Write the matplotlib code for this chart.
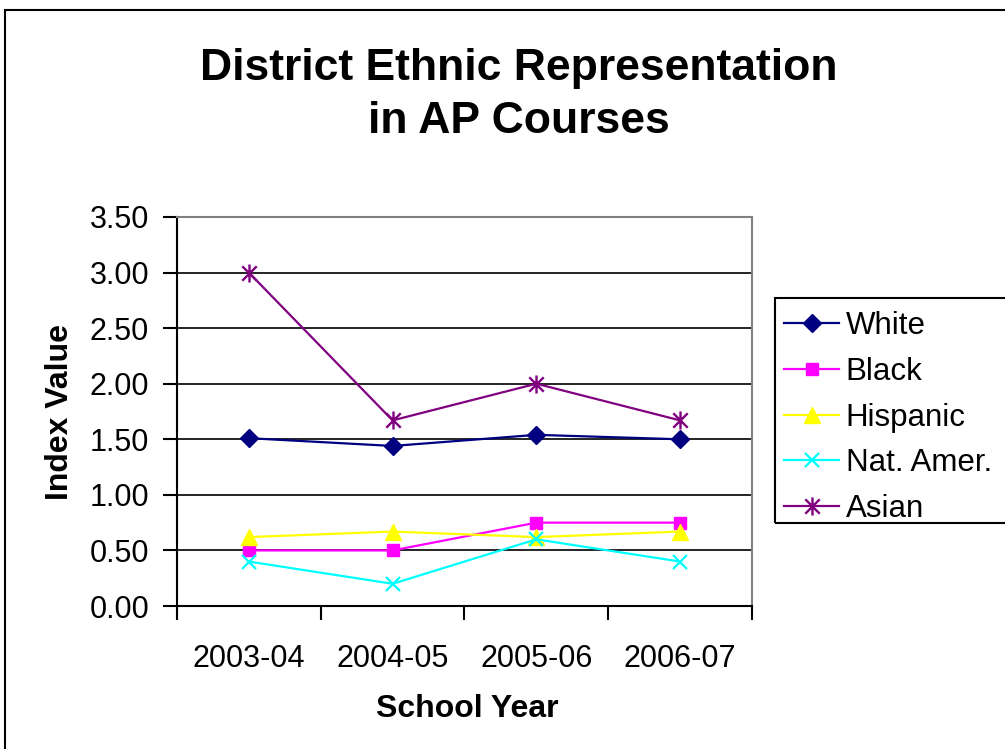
import matplotlib.pyplot as plt
from matplotlib.path import Path
from matplotlib.patches import Rectangle

plt.rcParams['font.family'] = ['Liberation Sans', 'DejaVu Sans']

years = ["2003-04", "2004-05", "2005-06", "2006-07"]
white = [1.51, 1.44, 1.54, 1.50]
black = [0.50, 0.50, 0.75, 0.75]
hispanic = [0.62, 0.67, 0.62, 0.67]
nat_amer = [0.40, 0.20, 0.60, 0.40]
asian = [3.00, 1.67, 2.00, 1.67]

# Excel-style asterisk: an X with a vertical bar through it
star = Path([(-1, -1), (1, 1), (-1, 1), (1, -1), (0, -1.25), (0, 1.25)],
            [Path.MOVETO, Path.LINETO] * 3)

series = [
    ("White", white, dict(color="#000080", marker="D", ms=9)),
    ("Black", black, dict(color="#FF00FF", marker="s", ms=8)),
    ("Hispanic", hispanic, dict(color="#FFFF00", marker="^", ms=11)),
    ("Nat. Amer.", nat_amer, dict(color="#00FFFF", marker="x", ms=10, mew=1.6)),
    ("Asian", asian, dict(color="#800080", marker=star, ms=13, mew=1.7)),
]

fig = plt.figure(figsize=(10.05, 7.49), dpi=100)
ax = fig.add_axes([0.1761, 0.1909, 0.5721, 0.5194])

x = list(range(len(years)))
for name, vals, style in series:
    ax.plot(x, vals, lw=1.6, label=name, **style)

ax.set_xlim(-0.5, len(years) - 0.5)
ax.set_ylim(0, 3.5)
ax.set_yticks([i * 0.5 for i in range(8)])
ax.set_yticklabels([f"{i * 0.5:.2f}" for i in range(8)])
ax.yaxis.grid(True, color="black", lw=1.2)
ax.set_axisbelow(True)

ax.set_xticks(x)
ax.set_xticklabels(years)
ax.set_xticks([i - 0.5 for i in range(len(years) + 1)], minor=True)
ax.tick_params(axis="x", which="major", length=0, pad=27, labelsize=22)
ax.tick_params(axis="x", which="minor", length=10, width=1.5, direction="out")
ax.tick_params(axis="y", length=10, width=1.5, direction="out", pad=10, labelsize=22)

for side in ("left", "bottom"):
    ax.spines[side].set_linewidth(1.5)
for side in ("top", "right"):
    ax.spines[side].set_color("#808080")
    ax.spines[side].set_linewidth(1.5)

ax.set_ylabel("Index Value", fontsize=23, fontweight="bold", va="center")
ax.yaxis.set_label_coords(-0.203, 0.5)
ax.set_xlabel("School Year", fontsize=23, fontweight="bold", va="center")
ax.xaxis.set_label_coords(0.504, -0.265)

fig.text(519 / 1005, 1 - 95 / 749, "District Ethnic Representation\nin AP Courses",
         ha="center", va="center", fontsize=32, fontweight="bold", linespacing=1.38)

# legend entries, with the box drawn separately so it can run off the right edge
fig.legend(loc="upper left", bbox_to_anchor=(774 / 1005, 1 - 301 / 749),
           borderaxespad=0, fontsize=22.5, frameon=False,
           handlelength=1.75, handletextpad=0.22, labelspacing=0.5, borderpad=0.33)
fig.add_artist(Rectangle((775 / 1005, 1 - 523 / 749), 0.3, 225 / 749,
                         transform=fig.transFigure, fill=False, edgecolor="black",
                         lw=1.5, clip_on=False))

# outer chart border, running off the right and bottom edges
fig.add_artist(Rectangle((5 / 1005, -0.1), 1.2, 1.1 - 10 / 749, transform=fig.transFigure,
                         fill=False, edgecolor="black", lw=1.5, clip_on=False))

fig.savefig("out.png", dpi=100)
